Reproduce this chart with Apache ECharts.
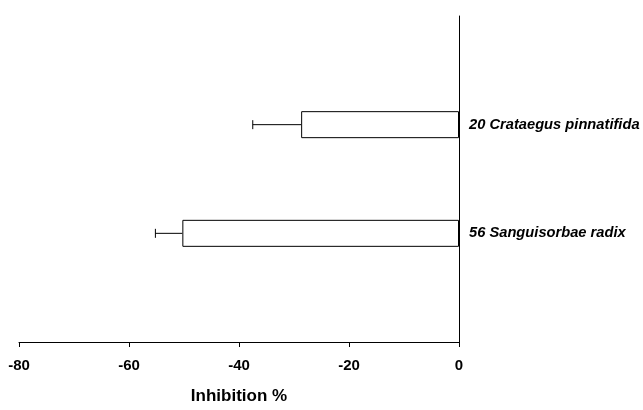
<!DOCTYPE html>
<html>
<head>
<meta charset="utf-8">
<script src="https://cdn.jsdelivr.net/npm/echarts@6/dist/echarts.min.js"></script>
<style>
  html, body { margin: 0; padding: 0; background: #fff; }
  #chart { width: 643px; height: 410px; }
</style>
</head>
<body>
<div id="chart"></div>
<script>
// Herbal extracts, mean inhibition (%) with standard error.
// Empty entries at both ends pad the category axis.
const categories = ['', '20 Crataegus pinnatifida', '56 Sanguisorbae radix', ''];
const inhibition = [null, -28.7, -50.3, null];
const inhibitionError = [null, 8.8, 4.9, null];
const xTicks = { min: -80, max: 0, step: 20 };

const FONT = '"Liberation Sans", Arial, sans-serif';

// Error whiskers: a line from the bar end outward plus a short cap.
const errorData = [];
categories.forEach((c, i) => {
  if (inhibition[i] != null) {
    errorData.push([inhibition[i], i, inhibitionError[i]]);
  }
});

const chart = echarts.init(document.getElementById('chart'), null, { renderer: 'canvas' });

chart.setOption({
  backgroundColor: '#ffffff',
  animation: false,
  grid: { left: 19, right: 184, top: 16, bottom: 60, containLabel: false },
  xAxis: {
    type: 'value',
    min: xTicks.min,
    max: xTicks.max,
    interval: xTicks.step,
    name: 'Inhibition %',
    nameLocation: 'middle',
    nameGap: 46,
    nameTextStyle: { fontFamily: FONT, fontWeight: 'bold', fontSize: 17, color: '#000' },
    axisLine: { show: true, lineStyle: { color: '#000', width: 1 } },
    axisTick: { show: true, length: 5, lineStyle: { color: '#000', width: 1 } },
    axisLabel: { fontFamily: FONT, fontWeight: 'bold', fontSize: 15, color: '#000', margin: 16 },
    splitLine: { show: false }
  },
  yAxis: {
    type: 'category',
    data: categories,
    inverse: true,
    boundaryGap: false,
    position: 'right',
    axisLine: { show: true, onZero: false, lineStyle: { color: '#000', width: 1 } },
    axisTick: { show: false },
    axisLabel: {
      fontFamily: FONT, fontWeight: 'bold', fontStyle: 'italic',
      fontSize: 14.7, color: '#000', margin: 10, interval: 0
    },
    splitLine: { show: false }
  },
  series: [
    {
      type: 'custom',
      name: 'error',
      data: errorData,
      z: 1,
      renderItem: function (params, api) {
        const v = api.value(0), idx = api.value(1), e = api.value(2);
        const start = api.coord([v, idx]);
        const end = api.coord([v - e, idx]);
        const cap = 4.5;
        return {
          type: 'group',
          children: [
            { type: 'line', shape: { x1: start[0], y1: start[1], x2: end[0], y2: end[1] },
              style: { stroke: '#000', lineWidth: 1 } },
            { type: 'line', shape: { x1: end[0], y1: end[1] - cap, x2: end[0], y2: end[1] + cap },
              style: { stroke: '#000', lineWidth: 1 } }
          ]
        };
      }
    },
    {
      type: 'bar',
      name: 'inhibition',
      data: inhibition.map(v => (v == null ? '-' : v)),
      barWidth: 27,
      z: 2,
      itemStyle: { color: '#ffffff', borderColor: '#000', borderWidth: 1 }
    }
  ]
});
</script>
</body>
</html>
